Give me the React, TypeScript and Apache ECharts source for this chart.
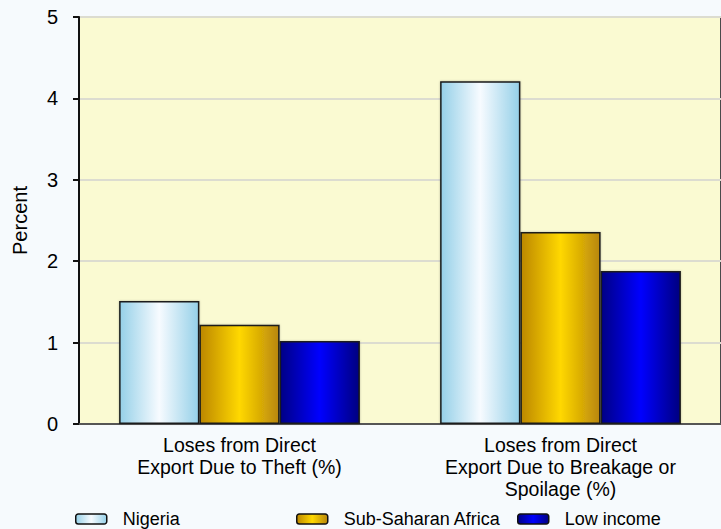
import React, { useEffect, useRef } from "react";
import * as echarts from "echarts";

const categories = [
  "Loses from Direct\nExport Due to Theft (%)",
  "Loses from Direct\nExport Due to Breakage or\nSpoilage (%)",
];
const seriesNames = ["Nigeria", "Sub-Saharan Africa", "Low income"];
const nigeria = [1.51, 4.21];
const subSaharanAfrica = [1.22, 2.36];
const lowIncome = [1.02, 1.88];
const yTicks = { min: 0, max: 5, interval: 1 };

const FONT = "'Liberation Sans', Arial, sans-serif";

function grad(edgeL: string, mid: string, edgeR: string) {
  return new echarts.graphic.LinearGradient(0, 0, 1, 0, [
    { offset: 0, color: edgeL },
    { offset: 0.5, color: mid },
    { offset: 1, color: edgeR },
  ]);
}

export default function App() {
  const ref = useRef<HTMLDivElement>(null);
  useEffect(() => {
    if (!ref.current) return;
    const chart = echarts.init(ref.current, undefined, { renderer: "svg" });
    const colors = [
      grad("#95D0E8", "#F7FBFF", "#95D0E8"),
      grad("#BC8700", "#FFD800", "#B8860B"),
      grad("#000085", "#0000FF", "#000080"),
    ];
    const values = [nigeria, subSaharanAfrica, lowIncome];
    const legendLefts = [75, 296, 517];
    chart.setOption({
      animation: false,
      backgroundColor: "#F6FAFD",
      textStyle: { fontFamily: FONT },
      grid: {
        left: 79,
        top: 17,
        width: 646,
        height: 407,
        show: true,
        backgroundColor: "#FAFAD2",
        borderColor: "#4a4a4a",
        borderWidth: 2,
      },
      legend: seriesNames.map((n, i) => ({
        data: [n],
        left: legendLefts[i],
        top: 510,
        itemWidth: 31,
        itemHeight: 10,
        itemGap: 0,
        padding: 0,
        textStyle: { fontSize: 18, color: "#000", fontFamily: FONT, padding: [0, 0, 0, 11] },
        itemStyle: { borderColor: "#111", borderWidth: 1.5 },
        icon: "roundRect",
      })),
      xAxis: {
        type: "category",
        data: categories,
        axisLine: { lineStyle: { color: "#555", width: 2 } },
        axisTick: { show: false },
        axisLabel: {
          interval: 0,
          color: "#000",
          fontSize: 19.5,
          lineHeight: 22,
          margin: 10,
          fontFamily: FONT,
        },
      },
      yAxis: {
        type: "value",
        min: yTicks.min,
        max: yTicks.max,
        interval: yTicks.interval,
        name: "Percent",
        nameLocation: "middle",
        nameGap: 49,
        nameTextStyle: { fontSize: 20, color: "#000", fontFamily: FONT },
        axisLine: { show: true, lineStyle: { color: "#111", width: 2 } },
        axisTick: { show: true, length: 6, lineStyle: { color: "#111", width: 2 } },
        axisLabel: { color: "#000", fontSize: 20, margin: 21, fontFamily: FONT },
        splitLine: { show: true, lineStyle: { color: "#DCDCD0", width: 2 } },
      },
      series: seriesNames.map((n, i) => ({
        name: n,
        type: "bar",
        data: values[i],
        barGap: "0%",
        barCategoryGap: "25%",
        itemStyle: {
          color: colors[i],
          borderColor: "#1a1a1a",
          borderWidth: 1.5,
          shadowColor: "rgba(0,0,0,0.25)",
          shadowBlur: 2,
        },
      })),
    });
    return () => chart.dispose();
  }, []);
  return (
    <div
      ref={ref}
      style={{ position: "fixed", left: 0, top: 0, width: 721, height: 529 }}
    />
  );
}
